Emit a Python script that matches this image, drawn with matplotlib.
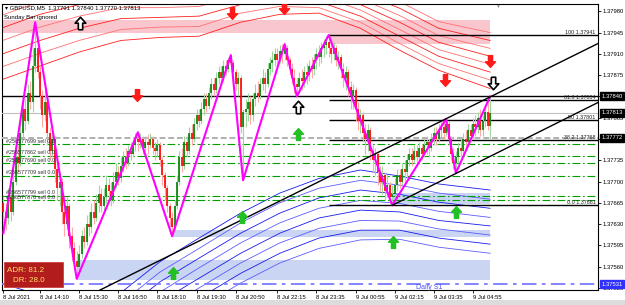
import numpy as np
import matplotlib
matplotlib.use("Agg")
import matplotlib.pyplot as plt
from matplotlib.patches import Rectangle
from matplotlib.path import Path

plt.rcParams['font.family'] = ['Liberation Sans', 'DejaVu Sans']

# prices are stored in points (1e-5) above 1.37500
BASE = 1.375

# M5 candles, 8 Jul 12:55 .. 9 Jul 05:30
open0 = 165
closes = [150, 140, 175, 150, 200, 240, 230, 280, 320, 300, 345, 330, 390, 420, 380, 340, 310, 330, 280, 250,
          270, 220, 190, 200, 150, 130, 160, 110, 90, 70, 60, 80, 110, 100, 130, 125, 150, 140, 165, 180,
          160, 175, 195, 185, 170, 200, 215, 205, 225, 240, 230, 250, 245, 260, 270, 265, 270, 255, 265, 260,
          270, 255, 250, 260, 235, 210, 190, 160, 140, 125, 160, 200, 240, 225, 265, 250, 280, 270, 295, 310,
          300, 320, 335, 325, 345, 360, 350, 370, 380, 370, 390, 385, 400, 395, 380, 360, 370, 290, 315, 320,
          330, 310, 335, 345, 340, 360, 370, 360, 385, 395, 400, 410, 400, 415, 410, 420, 400, 385, 370, 360,
          355, 370, 365, 380, 375, 390, 385, 400, 410, 405, 420, 425, 430, 420, 410, 420, 400, 405, 385, 370,
          380, 355, 340, 350, 320, 300, 310, 280, 270, 285, 250, 235, 245, 215, 200, 210, 185, 195, 175, 180,
          195, 210, 200, 220, 215, 235, 245, 235, 250, 240, 255, 245, 260, 265, 255, 270, 280, 270, 285, 290,
          280, 295, 270, 245, 230, 240, 255, 250, 270, 265, 285, 275, 295, 290, 305, 285, 300, 315, 291, 313]
highs = [175, 165, 190, 185, 215, 255, 260, 295, 340, 335, 360, 365, 420, 462, 440, 390, 350, 350, 335, 290,
         285, 275, 230, 215, 205, 165, 175, 165, 125, 100, 85, 95, 120, 125, 145, 150, 165, 170, 180, 195,
         190, 190, 210, 205, 200, 215, 230, 225, 240, 250, 255, 260, 265, 270, 280, 281, 280, 275, 275, 278,
         280, 275, 265, 270, 265, 240, 215, 195, 165, 150, 170, 210, 250, 255, 275, 275, 290, 295, 305, 320,
         320, 330, 345, 345, 355, 370, 370, 380, 390, 390, 400, 400, 405, 408, 400, 385, 380, 375, 320, 335,
         345, 340, 345, 360, 365, 370, 385, 380, 395, 405, 415, 420, 420, 425, 426, 426, 425, 405, 395, 385,
         370, 380, 385, 390, 395, 400, 405, 410, 420, 425, 430, 435, 440, 441, 430, 430, 425, 415, 410, 395,
         390, 385, 365, 360, 355, 330, 320, 315, 295, 295, 290, 260, 255, 250, 225, 225, 215, 210, 200, 195,
         205, 220, 220, 230, 235, 245, 255, 255, 260, 260, 265, 260, 270, 275, 270, 280, 290, 290, 295, 300,
         300, 303, 300, 275, 255, 250, 265, 270, 280, 285, 295, 295, 305, 310, 315, 320, 310, 325, 330, 340]
lows = [115, 120, 130, 135, 145, 195, 215, 225, 270, 285, 295, 320, 315, 380, 370, 320, 290, 300, 260, 235,
        240, 200, 170, 160, 130, 110, 120, 90, 70, 55, 40, 50, 75, 90, 95, 110, 115, 130, 135, 150,
        150, 150, 165, 170, 160, 165, 190, 195, 200, 215, 220, 225, 235, 240, 250, 250, 255, 245, 250, 245,
        255, 245, 235, 240, 225, 195, 170, 150, 125, 110, 120, 155, 195, 215, 220, 240, 245, 260, 265, 285,
        290, 295, 310, 315, 320, 335, 340, 345, 360, 360, 365, 375, 380, 385, 365, 350, 340, 280, 202, 290,
        300, 295, 300, 325, 330, 335, 350, 345, 355, 375, 380, 390, 390, 395, 395, 400, 390, 375, 360, 345,
        340, 345, 350, 355, 360, 365, 370, 375, 385, 390, 395, 405, 410, 405, 395, 400, 390, 385, 370, 355,
        350, 340, 320, 320, 300, 285, 280, 265, 245, 250, 235, 215, 210, 195, 185, 180, 170, 175, 165, 161,
        170, 185, 190, 195, 200, 205, 225, 225, 230, 230, 235, 235, 240, 245, 240, 250, 260, 260, 265, 270,
        270, 275, 260, 235, 220, 214, 230, 240, 245, 255, 260, 265, 270, 275, 280, 275, 275, 290, 285, 270]

# zigzag pivots
zz_bars = [0, 13, 30, 55, 69, 93, 98, 115, 120, 133, 159, 181, 185, 199]
zz_pts = [115, 462, 40, 281, 110, 408, 202, 426, 340, 441, 161, 303, 214, 340]

# envelope lines read at these bars
env_bars = [-1, 15, 31, 48, 64, 80, 97, 113, 129, 146, 162, 178, 199]
red_0 = [516, 539, 551, 559, 552, 554, 565, 567, 546, 521, 496, 463, 445]
red_1 = [495, 518, 531, 541, 536, 537, 551, 554, 536, 511, 485, 452, 432]
red_2 = [473, 496, 511, 523, 519, 521, 536, 541, 526, 501, 473, 440, 419]
red_3 = [452, 475, 491, 505, 503, 505, 521, 528, 516, 491, 462, 429, 406]
red_4 = [431, 454, 472, 486, 486, 488, 506, 514, 506, 482, 450, 417, 393]
red_5 = [409, 432, 452, 468, 470, 472, 491, 501, 496, 472, 439, 406, 380]
red_6 = [388, 411, 432, 450, 454, 455, 477, 488, 486, 462, 427, 394, 367]
red_7 = [367, 390, 413, 432, 437, 439, 462, 475, 477, 452, 416, 383, 353]
blue_0 = [33, 13, 5, 17, 68, 107, 148, 181, 205, 219, 209, 196, 186]
blue_1 = [18, -2, -10, 0, 51, 90, 132, 165, 189, 202, 194, 181, 171]
blue_2 = [3, -16, -25, -16, 35, 74, 115, 148, 173, 186, 179, 166, 156]
blue_3 = [-11, -31, -39, -33, 18, 58, 99, 132, 156, 169, 164, 151, 141]
blue_4 = [-26, -46, -54, -49, 2, 41, 82, 115, 140, 153, 150, 136, 127]
blue_5 = [-41, -61, -69, -66, -15, 25, 66, 99, 123, 136, 135, 122, 112]
blue_6 = [-56, -75, -84, -82, -31, 8, 49, 82, 107, 120, 120, 107, 97]
blue_7 = [-70, -90, -98, -98, -47, -8, 33, 66, 90, 104, 105, 92, 82]

# zones (bar from, bar to, pts low, pts high)
pink_zones = [(-1, 199, 444, 465), (133, 199, 427, 444)]
blue_zones = [(30, 199, 38, 71), (69, 199, 109, 120), (159, 199, 163, 181)]

fib_start = 133
fib_names = ['100', '61.8', '50', '38.2', '0.0']
fib_levels = [1.37941, 1.37834, 1.37801, 1.37768, 1.37661]

order_levels = [1.37761, 1.37742, 1.37730, 1.37709, 1.37676, 1.37669]
order_labels = ['#256577699 sell 0.0', '#256577862 sell 0.0', '#256577690 sell 0.0',
                '#256577709 sell 0.0', '#256577799 sell 0.0', '#256577870 sell 0.0']

# trend channel (bar, price)
upper_trend = [(39.5, 1.375215), (243.1, 1.37927)]
lower_trend = [(159, 1.37661), (243.1, 1.37830)]

# arrows (bar, price)
red_down = [(93.5, 1.37977), (114.8, 1.37985), (54.7, 1.37842), (180.6, 1.37867), (199, 1.37899)]
green_up = [(69.4, 1.37549), (97.6, 1.37641), (120.5, 1.37779), (159.3, 1.37600), (185.1, 1.37650)]
hollow_up = [(31.4, 1.37960), (120.5, 1.37822)]
hollow_down = [(200.2, 1.37862)]

tick_bars = [0, 15, 31, 47, 63, 79, 95, 112, 128, 144, 160, 176, 192]
tick_labels = ['8 Jul 2021', '8 Jul 14:10', '8 Jul 15:30', '8 Jul 16:50', '8 Jul 18:10', '8 Jul 19:30',
               '8 Jul 20:50', '8 Jul 22:15', '8 Jul 23:35', '9 Jul 00:55', '9 Jul 02:15', '9 Jul 03:35',
               '9 Jul 04:55']
price_ticks = [1.37525, 1.37560, 1.37595, 1.37630, 1.37665, 1.37700, 1.37735, 1.37770,
               1.37805, 1.37840, 1.37875, 1.37910, 1.37945, 1.37980]
# tick labels covered by the price boxes on the right
covered = [1.37770, 1.37840]
marked = [(1.37840, 'black'), (1.37813, 'black'), (1.37772, 'black'), (1.37531, '#3030ff')]


def pr(p):
    return BASE + np.asarray(p, dtype=float) / 1e5


fig = plt.figure(figsize=(6.25, 3.05), dpi=100)
ax = fig.add_axes([2 / 625, 15 / 305, 596 / 625, 286 / 305])
XMAX = 243.1
ax.set_xlim(-0.55, XMAX)
ax.set_ylim(1.375216, 1.37992)

# zones
for b0, b1, lo, hi in pink_zones:
    ax.add_patch(Rectangle((b0, pr(lo)), b1 - b0, pr(hi) - pr(lo), color='#f9c6cd', lw=0, zorder=1))
for b0, b1, lo, hi in blue_zones:
    ax.add_patch(Rectangle((b0, pr(lo)), b1 - b0, pr(hi) - pr(lo), color='#c9d5f2', lw=0, zorder=1))

# envelopes
reds = [red_0, red_1, red_2, red_3, red_4, red_5, red_6, red_7]
blues = [blue_0, blue_1, blue_2, blue_3, blue_4, blue_5, blue_6, blue_7]
for k, r in enumerate(reds):
    ax.plot(env_bars, pr(r), color='#ff2020' if k % 2 else '#ff7070', lw=0.6, zorder=2)
for k, b in enumerate(blues):
    ax.plot(env_bars, pr(b), color='#1a1aee' if k % 2 == 0 else '#5c5cff', lw=0.6, zorder=2)

# horizontal lines
ax.axhline(1.37840, color='black', lw=1.0, zorder=3)
ax.axhline(1.37813, color='#c0c0c0', lw=0.8, zorder=3)
ax.axhline(1.37772, color='#b0b0b0', lw=1.4, ls=(0, (3, 1.5)), zorder=3)
for lvl, lab in zip(order_levels, order_labels):
    ax.axhline(lvl, color='#00a000', lw=0.8, ls=(0, (7, 2.5, 1.5, 2.5)), zorder=3)
    ax.text(1.2, lvl + 0.000012, lab, fontsize=3.9, color='#303030', va='bottom', zorder=7)
ax.axhline(1.37531, color='#7b7bff', lw=1.3, ls=(0, (8, 3, 2, 3)), zorder=3)
ax.text(174, 1.37525, 'Daily S1', fontsize=5, color='#5050ff', va='center', ha='center', zorder=7)

# fibonacci
ax.hlines(fib_levels, fib_start, XMAX, color='black', lw=1.0, zorder=3)
for name, lvl in zip(fib_names, fib_levels):
    ax.text(242.0, lvl + 0.000008, '%s %.5f' % (name, lvl), fontsize=3.9, color='#202020',
            ha='right', va='bottom', zorder=7)

# candles
opens = [open0] + closes[:-1]
bars = np.arange(len(closes))
o = pr(opens)
c = pr(closes)
h = pr(highs)
l = pr(lows)
up = c >= o
ax.vlines(bars[up], l[up], h[up], color='#9ed89e', lw=0.8, zorder=4)
ax.vlines(bars[~up], l[~up], h[~up], color='#ffa8a8', lw=0.8, zorder=4)
ax.vlines(bars[up], o[up], c[up], color='#008000', lw=1.2, zorder=4)
ax.vlines(bars[~up], c[~up], o[~up], color='#ff0000', lw=1.2, zorder=4)

# zigzag and channel
ax.plot(zz_bars, pr(zz_pts), color='#ff00ff', lw=1.5, zorder=5)
for t in (upper_trend, lower_trend):
    ax.plot([t[0][0], t[1][0]], [t[0][1], t[1][1]], color='black', lw=1.0, zorder=5)

# arrows
up_arrow = Path([(-0.35, -1), (0.35, -1), (0.35, 0.05), (0.85, 0.05), (0, 1), (-0.85, 0.05),
                 (-0.35, 0.05), (-0.35, -1)])
down_arrow = Path([(x, -y) for x, y in up_arrow.vertices])
for bx, py in red_down:
    ax.plot(bx, py, marker=down_arrow, ms=8.5, color='#ff1a1a', mec='#ff1a1a', zorder=6)
for bx, py in green_up:
    ax.plot(bx, py, marker=up_arrow, ms=8.5, color='#22c022', mec='#22c022', zorder=6)
for bx, py in hollow_up:
    ax.plot(bx, py, marker=up_arrow, ms=9, mfc='white', mec='black', mew=1.2, zorder=6)
for bx, py in hollow_down:
    ax.plot(bx, py, marker=down_arrow, ms=9, mfc='white', mec='black', mew=1.2, zorder=6)

# axes
for s in ax.spines.values():
    s.set_color('black')
    s.set_linewidth(0.8)
ax.yaxis.tick_right()
ax.set_yticks(price_ticks)
ax.set_yticklabels(['' if p in covered else '%.5f' % p for p in price_ticks])
ax.tick_params(axis='y', labelsize=4.2, length=2, pad=1.5, width=0.6)
ax.set_xticks(tick_bars)
ax.set_xticklabels(tick_labels)
ax.tick_params(axis='x', labelsize=4.2, length=2, pad=1.5, width=0.6)
for t in ax.get_xticklabels():
    t.set_ha('left')

yt = ax.get_yaxis_transform()
for val, bg in marked:
    ax.text(1.006, val, '%.5f' % val, transform=yt, fontsize=4.2, color='white', va='center', ha='left',
            bbox=dict(boxstyle='square,pad=0.25', fc=bg, ec=bg), zorder=8, clip_on=False)

# header and info box
fig.text(5 / 625, 1 - 8 / 305, '\u25be GBPUSD,M5  1.37791 1.37840 1.37770 1.37813', fontsize=4.3,
         va='center', color='black')
fig.text(4 / 625, 1 - 18 / 305, 'Sunday Bar ignored', fontsize=4.3, va='center', color='black')
fig.text(497 / 625, 1 - 6 / 305, '\u25bc', fontsize=3.5, va='center', ha='center', color='#909090')
fig.add_artist(Rectangle((4 / 625, 1 - 287 / 305), 59 / 625, 25 / 305, transform=fig.transFigure,
                         fc='#b21c1c', ec='#c84040', lw=0.6, zorder=9))
fig.text(7 / 625, 1 - 270 / 305, 'ADR: 81.2', fontsize=5.8, color='#ffe066', va='center', zorder=10)
fig.text(13 / 625, 1 - 280 / 305, 'DR: 28.0', fontsize=5.8, color='#ffe066', va='center', zorder=10)
fig.add_artist(Rectangle((0, 0), 1, 5 / 305, transform=fig.transFigure, fc='#dcdcdc', lw=0))

fig.savefig('out.png', dpi=100)
